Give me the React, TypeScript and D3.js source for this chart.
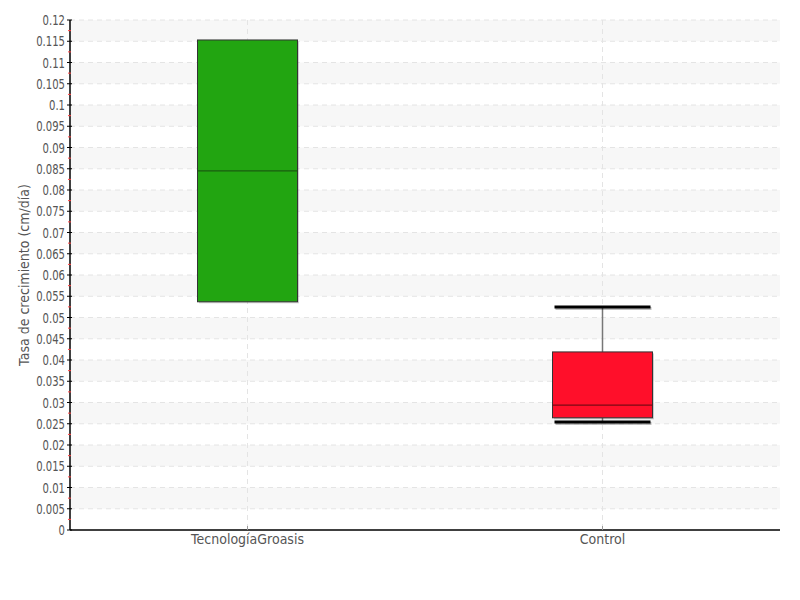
import React from "react";
import * as d3 from "d3";

const categories = ["TecnologíaGroasis", "Control"];
const whiskerLow = [0.0537, 0.0254];
const q1 = [0.0537, 0.0264];
const median = [0.0845, 0.0294];
const q3 = [0.1153, 0.0419];
const whiskerHigh = [0.1153, 0.0525];
const boxColors = ["#22a511", "#ff0f2a"];
const medianColors = ["#1a5c10", "#7a0a14"];
const yTicks = d3.range(0, 0.1201, 0.005).map((v) => +v.toFixed(3));
const yTitle = "Tasa de crecimiento (cm/día)";

const W = 800, H = 600;
const M = { left: 70, right: 20, top: 20, bottom: 70 };
const FONT = "'DejaVu Sans', sans-serif";

export default function App() {
  const x = d3.scaleBand().domain(categories).range([M.left, W - M.right]);
  const y = d3.scaleLinear().domain([0, 0.12]).range([H - M.bottom, M.top]);
  const minor = d3.range(0.0025, 0.12, 0.005);
  const boxW = 100;
  const fmt = (v: number) => String(+v.toFixed(3));
  return (
    <svg width={W} height={H} style={{ position: "absolute", left: 0, top: 0 }} fontFamily={FONT}>
      {yTicks.slice(0, -1).map((v, i) =>
        i % 2 === 1 ? (
          <rect key={"b" + i} x={M.left} width={W - M.right - M.left} y={y(v + 0.005)} height={y(v) - y(v + 0.005)} fill="#f7f7f7" />
        ) : null
      )}
      {yTicks.slice(1).map((v) => (
        <line key={"g" + v} x1={M.left} x2={W - M.right} y1={y(v)} y2={y(v)} stroke="#e4e4e4" strokeDasharray="5,4" />
      ))}
      {categories.map((c) => {
        const cx = (x(c) as number) + x.bandwidth() / 2;
        return <line key={"v" + c} x1={cx} x2={cx} y1={M.top} y2={H - M.bottom} stroke="#e4e4e4" strokeDasharray="5,4" />;
      })}
      {categories.map((c, i) => {
        const cx = (x(c) as number) + x.bandwidth() / 2;
        const capW = 96;
        const cap = (v: number) => (
          <>
            <line x1={cx - capW / 2 + 1} x2={cx + capW / 2 + 1} y1={y(v) + 1.5} y2={y(v) + 1.5} stroke="#000" strokeOpacity={0.25} strokeWidth={3} />
            <line x1={cx - capW / 2} x2={cx + capW / 2} y1={y(v)} y2={y(v)} stroke="#000" strokeWidth={3} />
          </>
        );
        const bt = y(q3[i]), bb = y(q1[i]);
        return (
          <g key={"box" + c}>
            {whiskerHigh[i] > q3[i] && (
              <>
                <line x1={cx} x2={cx} y1={y(whiskerHigh[i])} y2={bt} stroke="#777" strokeWidth={1.5} />
                {cap(whiskerHigh[i])}
              </>
            )}
            {whiskerLow[i] < q1[i] && (
              <>
                <line x1={cx} x2={cx} y1={bb} y2={y(whiskerLow[i])} stroke="#777" strokeWidth={1.5} />
                {cap(whiskerLow[i])}
              </>
            )}
            <rect x={cx - boxW / 2 + 1.5} width={boxW} y={bt + 1.5} height={bb - bt} fill="#000" opacity={0.18} />
            <rect x={cx - boxW / 2} width={boxW} y={bt} height={bb - bt} fill={boxColors[i]} stroke="#333" strokeWidth={1} />
            <line x1={cx - boxW / 2} x2={cx + boxW / 2} y1={y(median[i])} y2={y(median[i])} stroke={medianColors[i]} strokeWidth={1.2} />
          </g>
        );
      })}
      <line x1={M.left} x2={M.left} y1={M.top} y2={H - M.bottom} stroke="#000" strokeWidth={1.5} />
      {minor.map((v) => (
        <line key={"m" + v} x1={M.left - 2} x2={M.left + 1} y1={y(v)} y2={y(v)} stroke="#ff4040" strokeWidth={1} />
      ))}
      {yTicks.map((v) => (
        <g key={"t" + v}>
          <line x1={M.left - 3} x2={M.left + 2} y1={y(v)} y2={y(v)} stroke="#000" strokeWidth={1} />
          <text transform={`translate(${M.left - 5},${y(v)}) scale(0.72,1)`} dy="0.36em" textAnchor="end" fontSize={14} fill="#555">
            {fmt(v)}
          </text>
        </g>
      ))}
      <text transform={`translate(29,${(M.top + H - M.bottom) / 2}) rotate(-90) scale(0.9,1)`} textAnchor="middle" fontSize={14} fill="#555">
        {yTitle}
      </text>
      <line x1={M.left} x2={W - M.right} y1={H - M.bottom} y2={H - M.bottom} stroke="#000" strokeWidth={1.5} />
      {categories.map((c) => {
        const cx = (x(c) as number) + x.bandwidth() / 2;
        return (
          <g key={"x" + c}>
            <line x1={cx} x2={cx} y1={H - M.bottom - 4} y2={H - M.bottom} stroke="#999" />
            <text transform={`translate(${cx},${H - M.bottom + 14}) scale(0.9,1)`} textAnchor="middle" fontSize={14} fill="#555">
              {c}
            </text>
          </g>
        );
      })}
    </svg>
  );
}
